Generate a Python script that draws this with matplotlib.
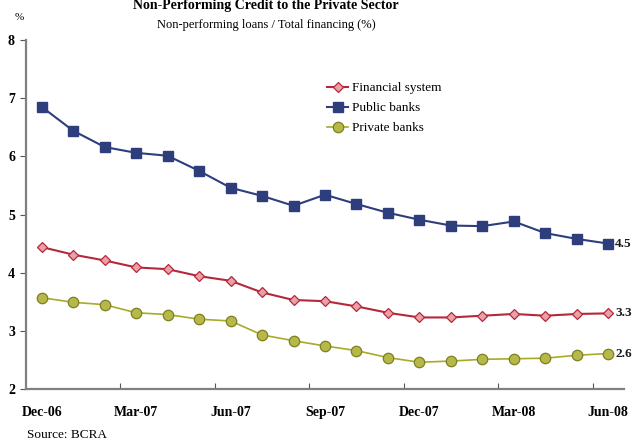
import matplotlib
matplotlib.use("Agg")
import matplotlib.pyplot as plt
from matplotlib.ticker import FixedLocator, NullFormatter

months = ["Dec-06", "Jan-07", "Feb-07", "Mar-07", "Apr-07", "May-07", "Jun-07",
          "Jul-07", "Aug-07", "Sep-07", "Oct-07", "Nov-07", "Dec-07", "Jan-08",
          "Feb-08", "Mar-08", "Apr-08", "May-08", "Jun-08"]

financial_system = [4.44, 4.31, 4.21, 4.09, 4.06, 3.94, 3.86, 3.66, 3.53, 3.51,
                    3.42, 3.31, 3.23, 3.23, 3.26, 3.29, 3.26, 3.29, 3.30]
public_banks = [6.85, 6.44, 6.16, 6.06, 6.01, 5.75, 5.46, 5.32, 5.15, 5.34,
                5.18, 5.03, 4.91, 4.81, 4.80, 4.88, 4.68, 4.58, 4.50]
private_banks = [3.57, 3.49, 3.45, 3.31, 3.28, 3.20, 3.17, 2.93, 2.83, 2.74,
                 2.66, 2.54, 2.46, 2.48, 2.51, 2.52, 2.53, 2.58, 2.61]

end_labels = ["4.5", "3.3", "2.6"]
y_ticks = [2, 3, 4, 5, 6, 7, 8]

SERIF = ["Liberation Serif", "DejaVu Serif"]
plt.rcParams["font.family"] = SERIF

fig = plt.figure(figsize=(6.32, 4.41), dpi=100)
ax = fig.add_axes([26 / 632, 52 / 441, 598 / 632, 349 / 441])

x = list(range(len(months)))
ax.plot(x, financial_system, color="#B5283A", lw=1.5, marker="D", ms=5.5,
        mfc="#E9A0A8", mec="#B5283A", mew=0.9, label="Financial system", zorder=3)
ax.plot(x, public_banks, color="#2E3E7C", lw=1.5, marker="s", ms=6.5,
        mfc="#2E3E7C", mec="#2E3E7C", label="Public banks", zorder=3)
ax.plot(x, private_banks, color="#A9AA28", lw=1.2, marker="o", ms=7.5,
        mfc="#B6B94A", mec="#7E7F1E", mew=0.9, label="Private banks", zorder=3)

for series, txt in [(public_banks, end_labels[0]),
                    (financial_system, end_labels[1]),
                    (private_banks, end_labels[2])]:
    ax.annotate(txt, (x[-1], series[-1]), xytext=(5, 0), textcoords="offset points",
                ha="left", va="center", fontsize=9.5, fontweight="bold",
                color="#1a1a1a", annotation_clip=False)

ax.set_xlim(-0.5, len(months) - 0.5)
ax.set_ylim(2, 8)
ax.set_yticks(y_ticks)
ax.set_yticklabels([str(v) for v in y_ticks], fontsize=10, fontweight="bold")

# tick marks between quarters, labels centred on quarter months
ax.xaxis.set_major_locator(FixedLocator([i + 2.5 for i in range(0, 16, 3)]))
ax.xaxis.set_major_formatter(NullFormatter())
ax.xaxis.set_minor_locator(FixedLocator(x[::3]))
ax.set_xticklabels([months[i] for i in x[::3]], minor=True,
                   fontsize=10, fontweight="bold")
ax.tick_params(axis="x", which="major", direction="in", length=4, color="#555555")
ax.tick_params(axis="x", which="minor", length=0, pad=12)
ax.tick_params(axis="y", direction="out", length=4, color="#555555", pad=4)

for s in ["top", "right"]:
    ax.spines[s].set_visible(False)
for s in ["left", "bottom"]:
    ax.spines[s].set_color("#808080")
    ax.spines[s].set_linewidth(1.6)

leg = ax.legend(loc="upper left", bbox_to_anchor=(0.495, 0.895), frameon=False,
                fontsize=9.5, handlelength=1.6, handletextpad=0.3,
                labelspacing=0.6, borderaxespad=0)

fig.text(266 / 632, 1 - 5 / 441, "Non-Performing Credit to the Private Sector",
         ha="center", va="center", fontsize=10, fontweight="bold")
fig.text(266 / 632, 1 - 25 / 441, "Non-performing loans / Total financing (%)",
         ha="center", va="center", fontsize=9)
fig.text(19 / 632, 1 - 18 / 441, "%", ha="center", va="center", fontsize=8)
fig.text(27 / 632, 1 - 435 / 441, "Source: BCRA", ha="left", va="center",
         fontsize=9.5)

fig.savefig("out.png", dpi=100)
